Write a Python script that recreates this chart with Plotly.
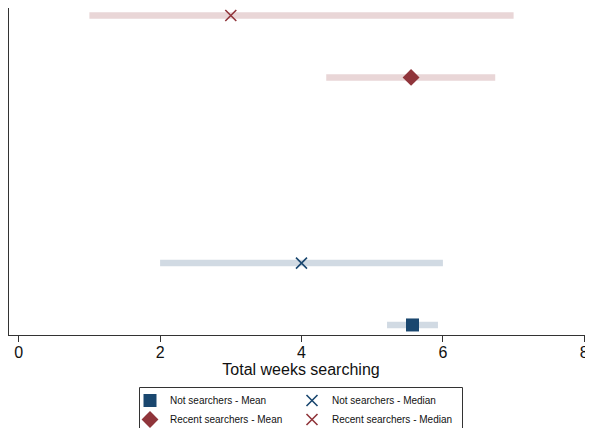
import plotly.graph_objects as go

# ---- data ----
rows = ["ns_mean", "ns_median", "gap1", "gap2", "rs_mean", "rs_median"]

ns_mean = 5.57
ns_mean_lo, ns_mean_hi = 5.21, 5.93
ns_median = 4.0
ns_median_lo, ns_median_hi = 2.0, 6.0

rs_mean = 5.55
rs_mean_lo, rs_mean_hi = 4.35, 6.74
rs_median = 3.0
rs_median_lo, rs_median_hi = 1.0, 7.0

x_ticks = [0, 2, 4, 6, 8]

NAVY = "#1a476f"
MAROON = "#90353b"
NAVY_LIGHT = "#d1dae3"
MAROON_LIGHT = "#e9d6d7"

# the page body adds an 8px offset, so the figure is laid out 8px smaller
OFF = 8
W, H = 593 - OFF, 428 - OFF
ML, MR, MT, MB = 1, 0, 0, 93
PW, PH = W - ML - MR, H - MT - MB


def px_x(p):  # reference pixel -> paper x
    return (p - OFF - ML) / PW


def px_y(p):  # reference pixel -> paper y
    return (H - MB - (p - OFF)) / PH


fig = go.Figure()

# range bars
for lo, hi, row, col in [
    (ns_mean_lo, ns_mean_hi, "ns_mean", NAVY_LIGHT),
    (ns_median_lo, ns_median_hi, "ns_median", NAVY_LIGHT),
    (rs_mean_lo, rs_mean_hi, "rs_mean", MAROON_LIGHT),
    (rs_median_lo, rs_median_hi, "rs_median", MAROON_LIGHT),
]:
    fig.add_trace(go.Scatter(x=[lo, hi], y=[row, row], mode="lines",
                             line=dict(color=col, width=6.5),
                             showlegend=False, hoverinfo="skip"))

# markers
fig.add_trace(go.Scatter(x=[ns_mean], y=["ns_mean"], mode="markers",
                         name="Not searchers - Mean", legend="legend",
                         marker=dict(symbol="square", size=13, color=NAVY)))
fig.add_trace(go.Scatter(x=[ns_median], y=["ns_median"], mode="markers",
                         name="Not searchers - Median", legend="legend2",
                         marker=dict(symbol="x-thin", size=11,
                                     line=dict(color=NAVY, width=1.6))))
fig.add_trace(go.Scatter(x=[rs_mean], y=["rs_mean"], mode="markers",
                         name="Recent searchers - Mean", legend="legend",
                         marker=dict(symbol="diamond", size=13, color=MAROON)))
fig.add_trace(go.Scatter(x=[rs_median], y=["rs_median"], mode="markers",
                         name="Recent searchers - Median", legend="legend2",
                         marker=dict(symbol="x-thin", size=11,
                                     line=dict(color=MAROON, width=1.6))))

leg_common = dict(orientation="v", yanchor="top", xanchor="left",
                  bgcolor="rgba(0,0,0,0)", borderwidth=0,
                  font=dict(size=10, color="#111"), tracegroupgap=0)

fig.update_layout(
    width=W, height=H,
    margin=dict(l=ML, r=MR, t=MT, b=MB, autoexpand=False),
    paper_bgcolor="white", plot_bgcolor="white",
    font=dict(family="Liberation Sans, Arial, sans-serif", color="#111"),
    xaxis=dict(range=[-0.137, 8.123], tickvals=x_ticks, automargin=False,
               showline=True, linecolor="#333", linewidth=1,
               ticks="outside", ticklen=6, tickcolor="#333",
               showgrid=False, zeroline=False, ticklabelstandoff=-3,
               tickfont=dict(size=16),
               title=dict(text="Total weeks searching", font=dict(size=16), standoff=2)),
    yaxis=dict(type="category", categoryorder="array", categoryarray=rows,
               automargin=False,
               range=[-0.162, 5.121], showline=True, linecolor="#333", linewidth=1,
               showticklabels=False, ticks="", showgrid=False, zeroline=False),
    legend=dict(x=px_x(130), y=px_y(386), **leg_common),
    legend2=dict(x=px_x(292), y=px_y(386), **leg_common),
    shapes=[dict(type="rect", xref="paper", yref="paper",
                 x0=px_x(139.5), x1=px_x(462.5), y0=px_y(387.5), y1=px_y(445),
                 line=dict(color="#333", width=1), fillcolor="rgba(0,0,0,0)",
                 layer="below")],
)

fig.write_html("out.html")
